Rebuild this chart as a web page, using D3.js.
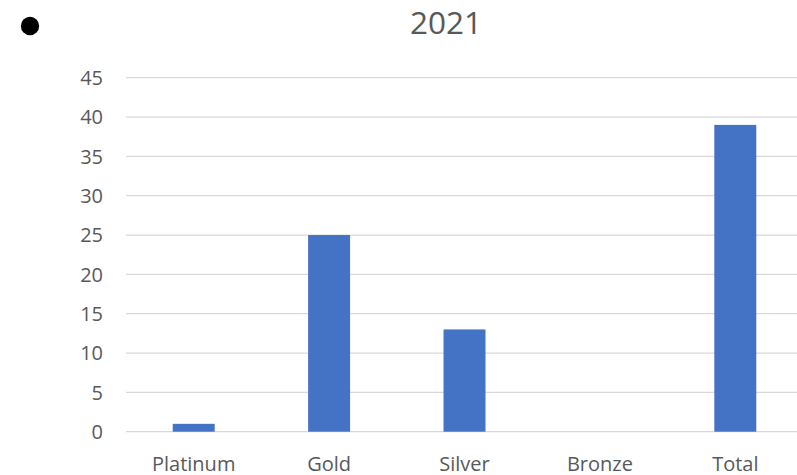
<!DOCTYPE html>
<html>
<head>
<meta charset="utf-8">
<script src="https://cdn.jsdelivr.net/npm/d3@7"></script>
<style>
  body { margin: 0; background: #fff; }
  svg { display: block; font-family: "Open Sans", sans-serif; }
</style>
</head>
<body>
<div id="chart"></div>
<script>
// chart data
var categories = ["Platinum", "Gold", "Silver", "Bronze", "Total"];
var values = [1, 25, 13, 0, 39];
var yTicks = [0, 5, 10, 15, 20, 25, 30, 35, 40, 45];
var title = "2021";

var width = 797, height = 475;

var svg = d3.select("#chart")
    .append("svg")
    .attr("width", width)
    .attr("height", height);

// bullet mark at top left
svg.append("circle")
    .attr("cx", 30)
    .attr("cy", 26)
    .attr("r", 9.2)
    .style("fill", "#000");

// title
svg.append("text")
    .attr("x", 446)
    .attr("y", 34)
    .attr("text-anchor", "middle")
    .style("font-size", "31.5px")
    .style("fill", "#595959")
    .text(title);

// scales
var x = d3.scaleBand()
    .domain(categories)
    .range([126, 803])
    .paddingInner(0.69)
    .paddingOuter(0.345);

var y = d3.scaleLinear()
    .domain([0, 45])
    .range([431.7, 77.7]);

// gridlines
svg.append("g")
    .selectAll("line")
    .data(yTicks)
    .enter()
    .append("line")
    .attr("x1", 126)
    .attr("x2", 803)
    .attr("y1", function (d) { return y(d); })
    .attr("y2", function (d) { return y(d); })
    .style("stroke", "#d9d9d9")
    .style("stroke-width", 1.3);

// y tick labels
svg.append("g")
    .selectAll("text")
    .data(yTicks)
    .enter()
    .append("text")
    .attr("x", 103)
    .attr("y", function (d) { return y(d); })
    .attr("dy", "0.36em")
    .attr("text-anchor", "end")
    .style("font-size", "20px")
    .style("fill", "#595959")
    .text(function (d) { return d; });

// bars
svg.append("g")
    .selectAll("rect")
    .data(values)
    .enter()
    .append("rect")
    .attr("x", function (d, i) { return x(categories[i]); })
    .attr("width", x.bandwidth())
    .attr("y", function (d) { return y(d); })
    .attr("height", function (d) { return y(0) - y(d); })
    .style("fill", "#4472c4");

// category labels
svg.append("g")
    .selectAll("text")
    .data(categories)
    .enter()
    .append("text")
    .attr("x", function (d) { return x(d) + x.bandwidth() / 2; })
    .attr("y", 470.5)
    .attr("text-anchor", "middle")
    .style("font-size", "20px")
    .style("fill", "#595959")
    .text(function (d) { return d; });
</script>
</body>
</html>
